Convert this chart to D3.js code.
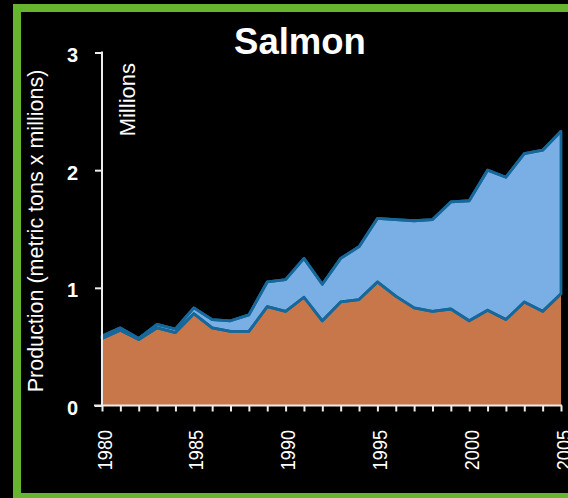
<!DOCTYPE html>
<html>
<head>
<meta charset="utf-8">
<script src="https://cdn.jsdelivr.net/npm/d3@7"></script>
<style>
  html, body { margin: 0; padding: 0; background: #000; overflow: hidden; }
  svg { display: block; }
  text { font-family: "Liberation Sans", Arial, sans-serif; fill: #ffffff; }
</style>
</head>
<body>
<script>
const years = d3.range(1980, 2006);
const capture = [0.57,0.64,0.56,0.66,0.62,0.78,0.66,0.63,0.63,0.84,0.80,0.92,0.72,0.88,0.90,1.05,0.93,0.83,0.80,0.82,0.72,0.81,0.73,0.88,0.80,0.95];
const aquaculture = [0.02,0.02,0.01,0.03,0.03,0.05,0.07,0.09,0.14,0.21,0.27,0.33,0.31,0.37,0.45,0.54,0.65,0.74,0.78,0.91,1.02,1.19,1.21,1.26,1.37,1.38];
const yTicks = [0, 1, 2, 3];
const xLabelYears = [1980, 1985, 1990, 1995, 2000, 2005];
const seriesKeys = ["capture", "aquaculture"];
const seriesColors = ["#c8774b", "#7aafe6"];
const title = "Salmon";
const yTitle = "Production (metric tons x millions)";
const unitLabel = "Millions";

const W = 568, H = 498;
const svg = d3.select("body").append("svg").attr("width", W).attr("height", H);
svg.append("rect").attr("width", W).attr("height", H).attr("fill", "#000");

// green frame
svg.append("rect").attr("x", 17).attr("y", 8).attr("width", 600).attr("height", 489)
  .attr("fill", "none").attr("stroke", "#67b52d").attr("stroke-width", 8);

const rows = years.map((y, i) => ({year: y, capture: capture[i], aquaculture: aquaculture[i]}));
const stacked = d3.stack().keys(seriesKeys)(rows);

const x = d3.scaleLinear().domain([1980, 2005]).range([102, 561]);
const y = d3.scaleLinear().domain([0, 3]).range([405.5, 52.5]);

const area = d3.area().x(d => x(d.data.year)).y0(d => y(d[0])).y1(d => y(d[1]));
const topLine = d3.line().x(d => x(d.data.year)).y(d => y(d[1]));

const strokeCol = "#17689a";
svg.append("path").datum(stacked[0]).attr("d", area).attr("fill", seriesColors[0]);
svg.append("path").datum(stacked[1]).attr("d", area).attr("fill", seriesColors[1])
  .attr("stroke", strokeCol).attr("stroke-width", 2.8).attr("stroke-linejoin", "round");
svg.append("path").datum(stacked[0]).attr("d", topLine).attr("fill", "none")
  .attr("stroke", strokeCol).attr("stroke-width", 2.8).attr("stroke-linejoin", "round");
svg.append("path").datum(stacked[1]).attr("d", topLine).attr("fill", "none")
  .attr("stroke", strokeCol).attr("stroke-width", 2.8).attr("stroke-linejoin", "round");

// axes
const axisCol = "#ececec";
const yAxis = d3.axisLeft(y).tickValues(yTicks).tickSize(7).tickFormat("");
const gy = svg.append("g").attr("transform", "translate(102,0)").call(yAxis);
gy.select(".domain").remove();
gy.selectAll(".tick line").attr("stroke", axisCol).attr("stroke-width", 2);
svg.append("line").attr("x1", 102).attr("x2", 102).attr("y1", y(3) - 1).attr("y2", y(0))
  .attr("stroke", axisCol).attr("stroke-width", 2);

const xAxis = d3.axisBottom(x).tickValues(years).tickSize(6).tickFormat("");
const gx = svg.append("g").attr("transform", `translate(0,${y(0)})`).call(xAxis);
gx.select(".domain").remove();
gx.selectAll(".tick line").attr("stroke", axisCol).attr("stroke-width", 2);
svg.append("line").attr("x1", 94).attr("x2", 562).attr("y1", y(0)).attr("y2", y(0))
  .attr("stroke", axisCol).attr("stroke-width", 2);

// y tick labels
svg.selectAll(".ylab").data(yTicks).enter().append("text")
  .attr("x", 78).attr("y", d => y(d) + 9.5)
  .attr("text-anchor", "end").attr("font-size", 20).attr("font-weight", "bold")
  .text(d => d);

// x tick labels (rotated)
svg.selectAll(".xlab").data(xLabelYears).enter().append("text")
  .attr("transform", d => `translate(${x(d) + 9.5},430) rotate(-90) scale(0.86,1)`)
  .attr("text-anchor", "end").attr("font-size", 21)
  .text(d => d);

// y axis title
svg.append("text").attr("transform", "translate(43,231) rotate(-90)")
  .attr("text-anchor", "middle").attr("font-size", 21.5).text(yTitle);

// Millions
svg.append("text").attr("transform", "translate(135,63) rotate(-90)")
  .attr("text-anchor", "end").attr("font-size", 22).text(unitLabel);

// title
svg.append("text").attr("x", 300).attr("y", 54)
  .attr("text-anchor", "middle").attr("font-size", 36.5).attr("font-weight", "bold").text(title);
</script>
</body>
</html>
